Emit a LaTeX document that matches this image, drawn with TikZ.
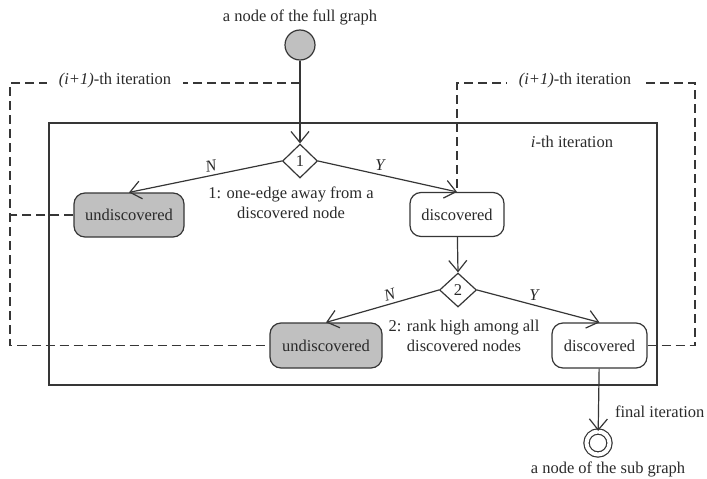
\documentclass[tikz,border=0pt]{standalone}
\usepackage{fontspec}
\setmainfont{Liberation Serif}
\usetikzlibrary{shapes.geometric,arrows.meta}
\definecolor{ln}{HTML}{363636}
\definecolor{txt}{HTML}{2A2A2A}
\definecolor{gr}{HTML}{C0C0C0}
\begin{document}
\begin{tikzpicture}[x=1pt,y=-1pt,
  font=\fontsize{16.5}{20}\selectfont, color=ln, text=txt, line width=1.2pt,
  state/.style={draw, rounded corners=11pt, minimum height=44pt, inner sep=2pt, fill=white},
  undisc/.style={state, fill=gr},
  dec/.style={diamond, draw, inner sep=0pt, minimum width=35pt, minimum height=34pt, fill=white},
  flow/.style={-{Straight Barb[length=11pt,width=18pt]}},
  loop/.style={dash pattern=on 9pt off 5pt, line width=1.3pt},
  lbl/.style={fill=white, inner xsep=12pt, inner ysep=2pt},
  plain/.style={inner sep=1pt}]
\useasboundingbox (0,0) rectangle (707,479);

% frame
\node[draw, line width=1.3pt, minimum width=608pt, minimum height=262pt, inner sep=0pt] (frame) at (353,254) {};
\node[plain] (ith) at (572,142) {\textit{i}-th iteration};

% nodes
\node[plain] (fulltxt) at (300,17) {a node of the full graph};
\node[circle, draw, fill=gr, minimum size=30pt, inner sep=0pt] (start) at (300,45) {};
\node[dec] (d1n) at (300,161) {1};
\node[undisc, minimum width=110pt] (u1) at (129,215) {undiscovered};
\node[state, minimum width=94pt] (d1) at (457,214.5) {discovered};
\node[dec, minimum width=37pt] (d2n) at (458,290) {2};
\node[undisc, minimum width=112pt, minimum height=45pt] (u2) at (326,345.5) {undiscovered};
\node[state, minimum width=95pt, minimum height=45pt] (d2) at (599.5,345.5) {discovered};
\node[circle, draw, double, double distance=4pt, minimum size=23pt, inner sep=0pt] (final) at (598,443) {};
\node[plain] (subtxt) at (608,469) {a node of the sub graph};

\node[plain, align=center] (c1) at (291,203) {1: one-edge away from a\\discovered node};
\node[plain, align=center] (c2) at (464,336) {2: rank high among all\\discovered nodes};

% loop coordinates
\coordinate (entry) at (300,83);
\coordinate (tl) at (10,83);
\coordinate (bl) at (10,345.5);
\coordinate (ml) at (10,215);
\coordinate (tr) at (695,83);
\coordinate (br) at (695,345.5);
\coordinate (tm) at (457,83);

% dashed loops
\draw[loop] (entry) -- (tl) -- (bl) -- (u2.west);
\draw[loop] (u1.west) -- (ml);
\draw[loop] (d2.east) -- (br) -- (tr) -- (tm) -- (d1.north);
\node[lbl] (lblL) at (115,81) {\textit{(i+1)}-th iteration};
\node[lbl] (lblR) at (575,81) {\textit{(i+1)}-th iteration};

% flow
\draw[flow] (start) -- (d1n.north);
\draw[flow] (d1n.west) -- node[pos=0.45, above, sloped, inner sep=3pt] {\textit{N}} (u1.north);
\draw[flow] (d1n.east) -- node[pos=0.45, above, inner sep=4pt] {\textit{Y}} (d1.north);
\draw[flow] (d1) -- (d2n.north);
\draw[flow] (d2n.west) -- node[pos=0.41, above, sloped, inner sep=3pt] {\textit{N}} (u2.north);
\draw[flow] (d2n.east) -- node[pos=0.47, above, inner sep=4pt] {\textit{Y}} (d2.north);
\draw[flow] (d2) -- node[pos=0.7, anchor=west, xshift=15pt, inner sep=1pt] {final iteration} (final);
\end{tikzpicture}
\end{document}
